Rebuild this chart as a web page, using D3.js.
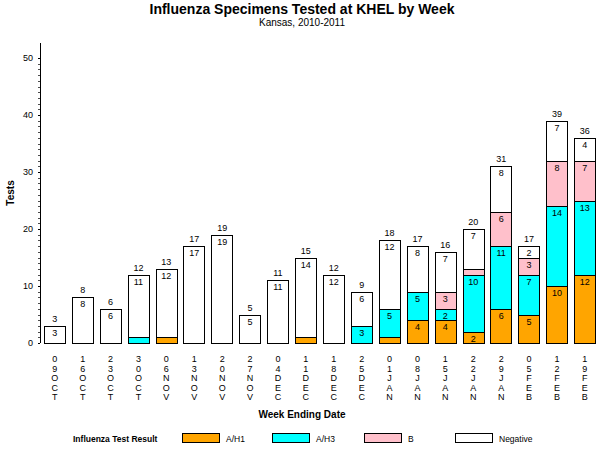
<!DOCTYPE html>
<html>
<head>
<meta charset="utf-8">
<script src="https://cdn.jsdelivr.net/npm/d3@7"></script>
<style>
  body { margin: 0; background: #fff; }
  svg { font-family: "Liberation Sans", Arial, sans-serif; }
</style>
</head>
<body>
<svg></svg>
<script>
const weeks = ["09OCT", "16OCT", "23OCT", "30OCT", "06NOV", "13NOV", "20NOV", "27NOV", "04DEC", "11DEC",
               "18DEC", "25DEC", "01JAN", "08JAN", "15JAN", "22JAN", "29JAN", "05FEB", "12FEB", "19FEB"];
const ah1 = [0, 0, 0, 0, 1, 0, 0, 0, 0, 1, 0, 0, 1, 4, 4, 2, 6, 5, 10, 12];
const ah3 = [0, 0, 0, 1, 0, 0, 0, 0, 0, 0, 0, 3, 5, 5, 2, 10, 11, 7, 14, 13];
const fluB = [0, 0, 0, 0, 0, 0, 0, 0, 0, 0, 0, 0, 0, 0, 3, 1, 6, 3, 8, 7];
const negative = [3, 8, 6, 11, 12, 17, 19, 5, 11, 14, 12, 6, 12, 8, 7, 7, 8, 2, 7, 4];
const yTicks = [0, 10, 20, 30, 40, 50];

const seriesNames = ["A/H1", "A/H3", "B", "Negative"];
const colors = ["#FFA500", "#00FFFF", "#FFC0CB", "#FFFFFF"];

const width = 600;
const height = 450;

const svg = d3.select("svg")
  .attr("width", width)
  .attr("height", height);

const data = weeks.map((w, i) => ({
  week: w, "A/H1": ah1[i], "A/H3": ah3[i], "B": fluB[i], "Negative": negative[i]
}));

const stack = d3.stack().keys(seriesNames)(data);

const x = d3.scaleBand()
  .domain(weeks)
  .range([40, 599.6])
  .paddingInner(0.23)
  .paddingOuter(0.143);

const y = d3.scaleLinear()
  .domain([0, 50])
  .range([343, 58]);

// title
svg.append("text")
  .attr("x", 302).attr("y", 14)
  .attr("text-anchor", "middle")
  .attr("font-size", 14).attr("font-weight", "bold")
  .text("Influenza Specimens Tested at KHEL by Week");
svg.append("text")
  .attr("x", 302).attr("y", 26)
  .attr("text-anchor", "middle")
  .attr("font-size", 10)
  .text("Kansas, 2010-2011");

// y axis
const yAxis = svg.append("g");
yAxis.append("line")
  .attr("x1", 40.5).attr("x2", 40.5)
  .attr("y1", 43).attr("y2", 343)
  .attr("stroke", "#000");
yAxis.selectAll(".minor")
  .data(d3.range(0, 51, 1))
  .join("line")
  .attr("x1", 38).attr("x2", 40)
  .attr("y1", d => Math.round(y(d)) + 0.5)
  .attr("y2", d => Math.round(y(d)) + 0.5)
  .attr("stroke", "#000")
  .attr("stroke-width", d => d % 10 === 0 ? 1 : 0.7);
yAxis.selectAll(".lab")
  .data(yTicks)
  .join("text")
  .attr("x", 33).attr("y", d => y(d) + 3)
  .attr("text-anchor", "end")
  .attr("font-size", 9)
  .text(d => d);
svg.append("text")
  .attr("transform", "translate(14,193) rotate(-90)")
  .attr("text-anchor", "middle")
  .attr("font-size", 10).attr("font-weight", "bold")
  .text("Tests");

// bars
const layers = svg.append("g").selectAll("g")
  .data(stack)
  .join("g")
  .attr("fill", (d, i) => colors[i]);

layers.selectAll("rect")
  .data(d => d.filter(s => s[1] > s[0]))
  .join("rect")
  .attr("x", d => Math.round(x(d.data.week)) + 0.5)
  .attr("y", d => Math.round(y(d[1])) + 0.5)
  .attr("width", Math.round(x.bandwidth()))
  .attr("height", d => Math.round(y(d[0])) - Math.round(y(d[1])))
  .attr("stroke", "#000")
  .attr("stroke-width", 1);

// segment labels
layers.selectAll("text")
  .data(d => d.filter(s => s[1] - s[0] >= 2))
  .join("text")
  .attr("x", d => x(d.data.week) + x.bandwidth() / 2)
  .attr("y", d => y(d[1]) + 10)
  .attr("text-anchor", "middle")
  .attr("font-size", 9)
  .attr("fill", "#000")
  .text(d => d[1] - d[0]);

// totals
svg.append("g").selectAll("text")
  .data(data)
  .join("text")
  .attr("x", d => x(d.week) + x.bandwidth() / 2)
  .attr("y", d => y(d["A/H1"] + d["A/H3"] + d.B + d.Negative) - 4)
  .attr("text-anchor", "middle")
  .attr("font-size", 9)
  .text(d => d["A/H1"] + d["A/H3"] + d.B + d.Negative);

// x labels as stacked characters
const xl = svg.append("g").selectAll("text")
  .data(weeks)
  .join("text")
  .attr("text-anchor", "middle")
  .attr("font-size", 9);
xl.selectAll("tspan")
  .data(w => w.split("").map(c => ({c, w})))
  .join("tspan")
  .attr("x", d => x(d.w) + x.bandwidth() / 2)
  .attr("y", (d, i) => 362 + i * 9.6)
  .text(d => d.c);

svg.append("text")
  .attr("x", 302).attr("y", 418)
  .attr("text-anchor", "middle")
  .attr("font-size", 10).attr("font-weight", "bold")
  .text("Week Ending Date");

// legend
const legend = svg.append("g");
legend.append("text")
  .attr("x", 73).attr("y", 442)
  .attr("font-size", 8.5).attr("font-weight", "bold")
  .text("Influenza Test Result");
const legX = [182, 272, 364, 455];
const items = legend.selectAll(".item")
  .data(seriesNames)
  .join("g")
  .attr("transform", (d, i) => `translate(${legX[i]},433)`);
items.append("rect")
  .attr("x", 0.5).attr("y", 0.5)
  .attr("width", 37).attr("height", 9)
  .attr("fill", (d, i) => colors[i])
  .attr("stroke", "#000");
items.append("text")
  .attr("x", 44).attr("y", 9)
  .attr("font-size", 8.5)
  .text(d => d);
</script>
</body>
</html>
